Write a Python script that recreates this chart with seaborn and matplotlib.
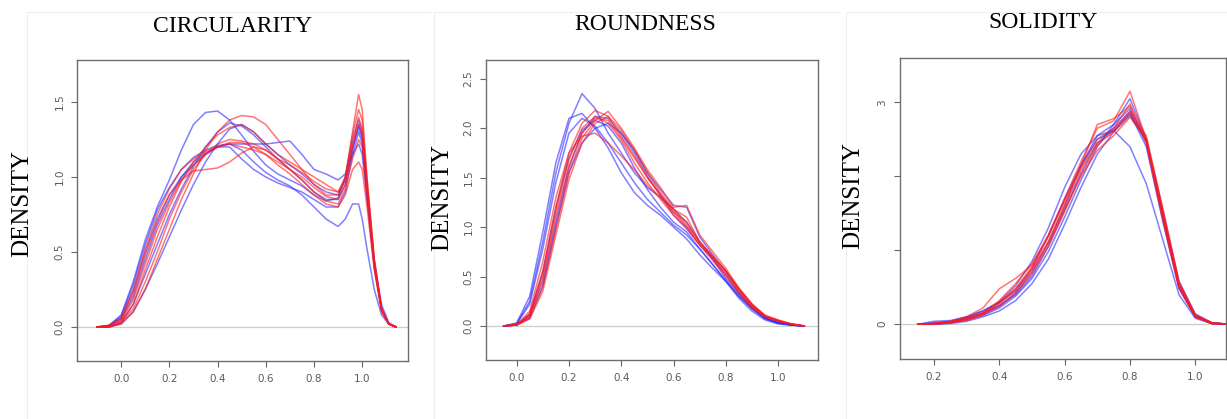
import numpy as np
import matplotlib.pyplot as plt
import pandas as pd
import seaborn as sns

sns.set_style("white")
plt.rcParams['font.family'] = ['DejaVu Sans']

BLUE = '#2b2bff'
RED = '#ff1a1a'

# ---- CIRCULARITY: density values ----
circ_x = [-0.10, -0.05, 0.00, 0.05, 0.10, 0.15, 0.20, 0.25, 0.30, 0.35, 0.40, 0.45, 0.50, 0.55, 0.60,
          0.65, 0.70, 0.75, 0.80, 0.85, 0.90, 0.93, 0.96, 0.985, 1.00, 1.02, 1.05, 1.08, 1.11, 1.14]
circ_blue = [
    [0, 0.01, 0.08, 0.30, 0.58, 0.80, 0.98, 1.18, 1.35, 1.43, 1.44, 1.38, 1.28, 1.17, 1.08, 1.02, 0.98, 0.94, 0.88, 0.84, 0.86, 1.00, 1.25, 1.38, 1.30, 0.95, 0.45, 0.15, 0.03, 0],
    [0, 0.01, 0.07, 0.28, 0.55, 0.78, 0.93, 1.05, 1.13, 1.18, 1.21, 1.22, 1.18, 1.10, 1.03, 0.98, 0.94, 0.88, 0.80, 0.72, 0.67, 0.72, 0.82, 0.82, 0.72, 0.52, 0.25, 0.08, 0.02, 0],
    [0, 0.00, 0.03, 0.15, 0.35, 0.55, 0.75, 0.92, 1.07, 1.20, 1.30, 1.36, 1.34, 1.28, 1.20, 1.12, 1.05, 0.98, 0.90, 0.85, 0.85, 0.95, 1.18, 1.35, 1.28, 0.92, 0.42, 0.12, 0.02, 0],
    [0, 0.00, 0.05, 0.20, 0.45, 0.68, 0.85, 1.00, 1.10, 1.16, 1.20, 1.22, 1.22, 1.22, 1.22, 1.23, 1.24, 1.15, 1.05, 1.02, 0.98, 1.02, 1.15, 1.22, 1.15, 0.85, 0.40, 0.12, 0.02, 0],
    [0, 0.00, 0.02, 0.10, 0.25, 0.42, 0.60, 0.78, 0.95, 1.10, 1.22, 1.32, 1.35, 1.30, 1.22, 1.15, 1.08, 1.02, 0.95, 0.90, 0.88, 0.98, 1.20, 1.33, 1.25, 0.90, 0.42, 0.12, 0.02, 0],
    [0, 0.01, 0.06, 0.24, 0.50, 0.72, 0.88, 1.00, 1.08, 1.15, 1.20, 1.20, 1.12, 1.05, 1.00, 0.96, 0.93, 0.90, 0.85, 0.80, 0.80, 0.90, 1.15, 1.30, 1.22, 0.88, 0.40, 0.12, 0.02, 0],
]
circ_red = [
    [0, 0.00, 0.02, 0.10, 0.25, 0.45, 0.65, 0.85, 1.02, 1.18, 1.30, 1.38, 1.41, 1.40, 1.35, 1.25, 1.15, 1.05, 0.95, 0.88, 0.88, 1.00, 1.30, 1.55, 1.45, 1.00, 0.45, 0.12, 0.02, 0],
    [0, 0.01, 0.05, 0.22, 0.48, 0.70, 0.88, 0.98, 1.04, 1.05, 1.06, 1.10, 1.16, 1.20, 1.18, 1.12, 1.05, 0.98, 0.90, 0.84, 0.82, 0.92, 1.12, 1.25, 1.20, 0.88, 0.42, 0.12, 0.02, 0],
    [0, 0.01, 0.06, 0.25, 0.52, 0.75, 0.92, 1.05, 1.12, 1.17, 1.20, 1.23, 1.23, 1.20, 1.15, 1.08, 1.02, 0.95, 0.88, 0.82, 0.80, 0.88, 1.05, 1.10, 1.05, 0.80, 0.38, 0.10, 0.02, 0],
    [0, 0.00, 0.03, 0.15, 0.38, 0.60, 0.80, 0.97, 1.10, 1.20, 1.28, 1.33, 1.35, 1.30, 1.22, 1.15, 1.10, 1.05, 1.00, 0.95, 0.90, 1.00, 1.28, 1.45, 1.38, 0.98, 0.45, 0.12, 0.02, 0],
    [0, 0.00, 0.04, 0.18, 0.42, 0.65, 0.83, 0.98, 1.08, 1.15, 1.20, 1.22, 1.20, 1.18, 1.15, 1.10, 1.05, 1.00, 0.93, 0.87, 0.85, 0.95, 1.20, 1.35, 1.28, 0.92, 0.42, 0.12, 0.02, 0],
    [0, 0.00, 0.03, 0.12, 0.30, 0.50, 0.72, 0.90, 1.05, 1.15, 1.22, 1.25, 1.24, 1.22, 1.18, 1.12, 1.08, 1.03, 0.97, 0.92, 0.90, 0.98, 1.22, 1.40, 1.32, 0.95, 0.44, 0.12, 0.02, 0],
]

# ---- ROUNDNESS ----
round_x = [-0.05, 0.00, 0.05, 0.10, 0.15, 0.20, 0.25, 0.30, 0.35, 0.40, 0.45, 0.50, 0.55, 0.60, 0.65,
           0.70, 0.75, 0.80, 0.85, 0.90, 0.95, 1.00, 1.05, 1.10]
round_blue = [
    [0, 0.02, 0.25, 0.85, 1.55, 2.05, 2.35, 2.20, 1.95, 1.75, 1.55, 1.40, 1.30, 1.18, 1.05, 0.85, 0.68, 0.48, 0.32, 0.18, 0.08, 0.03, 0.01, 0],
    [0, 0.03, 0.30, 0.95, 1.65, 2.10, 2.15, 2.00, 1.80, 1.55, 1.35, 1.22, 1.12, 1.00, 0.88, 0.72, 0.58, 0.45, 0.30, 0.18, 0.08, 0.03, 0.01, 0],
    [0, 0.02, 0.22, 0.78, 1.45, 1.95, 2.10, 2.02, 1.85, 1.65, 1.45, 1.28, 1.15, 1.02, 0.92, 0.78, 0.62, 0.46, 0.30, 0.17, 0.07, 0.03, 0.01, 0],
    [0, 0.01, 0.08, 0.40, 1.00, 1.55, 1.85, 2.00, 2.05, 1.95, 1.78, 1.55, 1.38, 1.22, 1.20, 0.90, 0.72, 0.55, 0.35, 0.20, 0.09, 0.04, 0.01, 0],
    [0, 0.01, 0.10, 0.45, 1.05, 1.60, 1.95, 2.12, 2.10, 1.95, 1.75, 1.52, 1.32, 1.12, 0.98, 0.82, 0.68, 0.52, 0.33, 0.18, 0.08, 0.03, 0.01, 0],
    [0, 0.01, 0.12, 0.55, 1.20, 1.70, 1.98, 2.08, 2.02, 1.85, 1.60, 1.38, 1.20, 1.05, 0.95, 0.78, 0.62, 0.45, 0.28, 0.15, 0.06, 0.02, 0.01, 0],
]
round_red = [
    [0, 0.01, 0.12, 0.55, 1.20, 1.75, 2.05, 2.18, 2.12, 1.92, 1.72, 1.50, 1.32, 1.18, 1.10, 0.85, 0.70, 0.55, 0.38, 0.22, 0.10, 0.05, 0.02, 0],
    [0, 0.01, 0.15, 0.65, 1.30, 1.75, 1.92, 1.95, 1.85, 1.72, 1.58, 1.42, 1.30, 1.15, 1.00, 0.82, 0.68, 0.52, 0.35, 0.20, 0.10, 0.05, 0.02, 0],
    [0, 0.01, 0.08, 0.40, 0.98, 1.55, 1.90, 2.08, 2.17, 2.00, 1.80, 1.58, 1.40, 1.20, 1.22, 0.92, 0.75, 0.58, 0.38, 0.22, 0.10, 0.06, 0.02, 0],
    [0, 0.01, 0.10, 0.48, 1.10, 1.62, 1.95, 2.10, 2.08, 1.90, 1.70, 1.50, 1.33, 1.15, 1.05, 0.85, 0.70, 0.55, 0.36, 0.20, 0.10, 0.05, 0.02, 0],
    [0, 0.01, 0.12, 0.52, 1.15, 1.68, 2.00, 2.12, 2.05, 1.88, 1.65, 1.45, 1.28, 1.12, 1.00, 0.82, 0.66, 0.50, 0.33, 0.18, 0.09, 0.05, 0.02, 0],
    [0, 0.01, 0.07, 0.35, 0.92, 1.48, 1.85, 2.05, 2.12, 1.98, 1.78, 1.55, 1.35, 1.18, 1.02, 0.85, 0.70, 0.56, 0.38, 0.22, 0.11, 0.06, 0.02, 0],
]

# ---- SOLIDITY ----
solid_x = [0.15, 0.20, 0.25, 0.30, 0.35, 0.40, 0.45, 0.50, 0.55, 0.60, 0.65, 0.70, 0.75, 0.80, 0.85,
           0.90, 0.95, 1.00, 1.05, 1.10]
solid_blue = [
    [0, 0.04, 0.05, 0.10, 0.18, 0.30, 0.52, 0.85, 1.30, 1.85, 2.30, 2.55, 2.62, 2.40, 1.90, 1.15, 0.40, 0.08, 0.01, 0],
    [0, 0.01, 0.03, 0.08, 0.15, 0.25, 0.40, 0.65, 1.05, 1.55, 2.05, 2.45, 2.65, 2.88, 2.45, 1.45, 0.50, 0.10, 0.01, 0],
    [0, 0.00, 0.02, 0.06, 0.12, 0.22, 0.38, 0.62, 0.98, 1.45, 1.95, 2.40, 2.70, 3.05, 2.50, 1.50, 0.55, 0.12, 0.02, 0],
    [0, 0.02, 0.04, 0.10, 0.18, 0.30, 0.45, 0.75, 1.20, 1.70, 2.15, 2.50, 2.62, 2.85, 2.40, 1.40, 0.48, 0.10, 0.01, 0],
    [0, 0.01, 0.03, 0.08, 0.14, 0.25, 0.42, 0.70, 1.10, 1.60, 2.15, 2.55, 2.70, 2.92, 2.48, 1.50, 0.52, 0.12, 0.02, 0],
    [0, 0.00, 0.01, 0.04, 0.10, 0.18, 0.32, 0.55, 0.88, 1.35, 1.85, 2.30, 2.60, 2.82, 2.50, 1.55, 0.58, 0.14, 0.02, 0],
]
solid_red = [
    [0, 0.01, 0.03, 0.08, 0.15, 0.28, 0.48, 0.78, 1.20, 1.70, 2.20, 2.65, 2.75, 3.15, 2.50, 1.45, 0.50, 0.10, 0.01, 0],
    [0, 0.01, 0.04, 0.10, 0.22, 0.48, 0.62, 0.80, 1.18, 1.65, 2.15, 2.70, 2.78, 2.95, 2.45, 1.42, 0.50, 0.10, 0.01, 0],
    [0, 0.01, 0.03, 0.08, 0.16, 0.30, 0.48, 0.75, 1.12, 1.60, 2.10, 2.45, 2.60, 2.85, 2.48, 1.50, 0.54, 0.12, 0.02, 0],
    [0, 0.00, 0.02, 0.06, 0.14, 0.28, 0.45, 0.72, 1.10, 1.55, 2.00, 2.35, 2.55, 2.80, 2.50, 1.55, 0.56, 0.12, 0.02, 0],
    [0, 0.01, 0.03, 0.07, 0.14, 0.32, 0.55, 0.82, 1.20, 1.68, 2.12, 2.50, 2.65, 2.98, 2.50, 1.48, 0.52, 0.11, 0.01, 0],
    [0, 0.00, 0.02, 0.05, 0.12, 0.24, 0.42, 0.68, 1.05, 1.52, 2.02, 2.42, 2.62, 2.88, 2.55, 1.58, 0.58, 0.13, 0.02, 0],
]

W, H = 1227, 419
fig = plt.figure(figsize=(W / 100, H / 100), dpi=100)

# faint panel borders of the pasted images
for x0, x1 in [(27, 430), (434, 840), (846, 1226)]:
    fig.add_artist(plt.Line2D([x0 / W, x0 / W], [0, 1 - 12 / H], color='#eeeeee', lw=0.8))
    fig.add_artist(plt.Line2D([x0 / W, x1 / W], [1 - 12 / H, 1 - 12 / H], color='#eeeeee', lw=0.8))


def make_ax(l, r, t, b):
    return fig.add_axes([l / W, 1 - b / H, (r - l) / W, (b - t) / H])


panels = [
    dict(box=(77, 408, 60, 361), x=circ_x, blue=circ_blue, red=circ_red, xlim=(-0.183, 1.19),
         ylim=(-0.227, 1.78), xt=[0, 0.2, 0.4, 0.6, 0.8, 1.0], yt=[0, 0.5, 1.0, 1.5],
         ytl=['0.0', '0.5', '1.0', '1.5'], title='CIRCULARITY', tpos=(233, 27), dpos=(22, 203)),
    dict(box=(486, 818, 60, 360), x=round_x, blue=round_blue, red=round_red, xlim=(-0.117, 1.152),
         ylim=(-0.344, 2.69), xt=[0, 0.2, 0.4, 0.6, 0.8, 1.0], yt=[0, 0.5, 1.0, 1.5, 2.0, 2.5],
         ytl=['0.0', '0.5', '1.0', '1.5', '2.0', '2.5'], title='ROUNDNESS', tpos=(645, 24), dpos=(442, 197)),
    dict(box=(900, 1226, 58, 359), x=solid_x, blue=solid_blue, red=solid_red, xlim=(0.096, 1.094),
         ylim=(-0.47, 3.6), xt=[0.2, 0.4, 0.6, 0.8, 1.0], yt=[0, 1, 2, 3],
         ytl=['0', '', '', '3'], title='SOLIDITY', tpos=(1043, 23), dpos=(853, 195)),
]

for p in panels:
    ax = make_ax(*p['box'])
    ax.axhline(0, color='#cccccc', lw=0.9, zorder=0)
    curves = []
    for i, vals in enumerate(p['blue']):
        curves.append(pd.DataFrame({'x': p['x'], 'y': vals, 'curve': f'b{i}', 'col': BLUE}))
    for i, vals in enumerate(p['red']):
        curves.append(pd.DataFrame({'x': p['x'], 'y': vals, 'curve': f'r{i}', 'col': RED}))
    for df in curves:
        sns.lineplot(data=df, x='x', y='y', color=df['col'].iloc[0], lw=1.1, alpha=0.6,
                     estimator=None, sort=False, ax=ax)
    ax.set_xlim(*p['xlim'])
    ax.set_ylim(*p['ylim'])
    ax.set_xticks(p['xt'])
    ax.set_xticklabels([f'{v:.1f}' for v in p['xt']])
    ax.set_yticks(p['yt'])
    ax.set_yticklabels(p['ytl'])
    ax.set_xlabel('')
    ax.set_ylabel('')
    ax.tick_params(direction='out', length=4, width=0.8, color='#666666', labelcolor='#5a5a5a',
                   labelsize=7.5, pad=5, left=True, bottom=True)
    ax.tick_params(axis='y', labelrotation=90)
    for lab in ax.get_yticklabels():
        lab.set_va('center')
    for s in ax.spines.values():
        s.set_color('#6e6e6e')
        s.set_linewidth(1.0)
    fig.text(p['tpos'][0] / W, 1 - p['tpos'][1] / H, p['title'], ha='center', va='center',
             fontsize=17, family='Liberation Serif', color='black')
    fig.text(p['dpos'][0] / W, 1 - p['dpos'][1] / H, 'DENSITY', ha='center', va='center',
             rotation=90, fontsize=18, family='Liberation Serif', color='black')

fig.savefig('out.png', dpi=100)
